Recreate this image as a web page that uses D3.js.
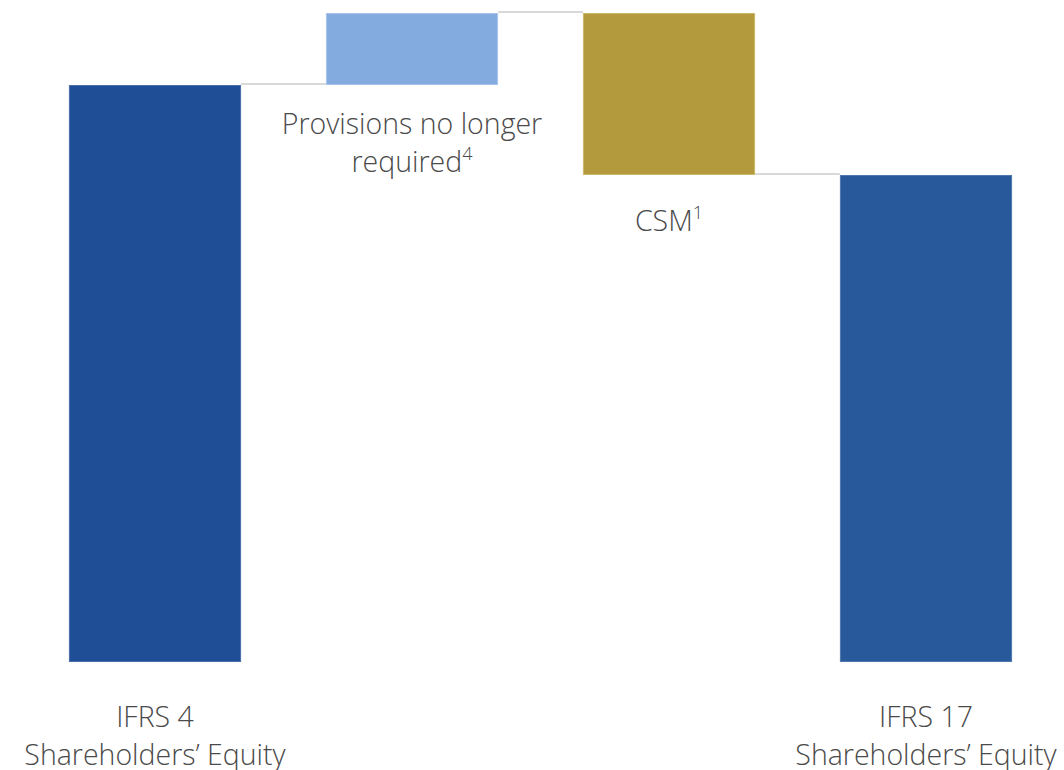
<!DOCTYPE html>
<html>
<head>
<meta charset="utf-8">
<script src="https://cdn.jsdelivr.net/npm/d3@7"></script>
<style>
  html, body { margin: 0; padding: 0; background: #fff; }
  svg { display: block; }
  text { font-family: "Open Sans", "Segoe UI", sans-serif; font-weight: 300; fill: #4a4a4a; }
</style>
</head>
<body>
<svg id="chart" width="1064" height="770"></svg>
<script>
// Data (arbitrary units)
const categories = ["IFRS 4 Shareholders’ Equity", "Provisions no longer required", "CSM", "IFRS 17 Shareholders’ Equity"];
const values = [57.7, 7.2, -16.2, 48.7];
const kinds = ["total", "delta", "delta", "total"];
const labelLines = [["IFRS 4", "Shareholders’ Equity"], ["Provisions no longer", "required"], ["CSM"], ["IFRS 17", "Shareholders’ Equity"]];
const superscripts = ["", "4", "1", ""];
const colors = ["#1F4E96", "#84ABE0", "#B39A3C", "#285A9B"];
const strokes = ["#4A6FAA", "#A9C5EC", "#CDB86A", "#4F78AE"];

const svg = d3.select("#chart");

const x = d3.scaleBand().domain(categories)
  .range([26.5, 1054.5]).paddingInner(0.33).paddingOuter(0.165);
const y = d3.scaleLinear().domain([0, 65]).range([662, 12]);

// compute waterfall
let running = 0;
const bars = categories.map((c, i) => {
  let lo, hi, end;
  if (kinds[i] === "total") { lo = 0; hi = values[i]; end = values[i]; }
  else { const s = running; end = running + values[i]; lo = Math.min(s, end); hi = Math.max(s, end); }
  running = end;
  return { c, i, lo, hi, end };
});

// connectors
const conn = svg.append("g");
for (let i = 0; i < bars.length - 1; i++) {
  const lvl = bars[i].end;
  conn.append("line")
    .attr("x1", x(categories[i]) + x.bandwidth())
    .attr("x2", x(categories[i + 1]))
    .attr("y1", y(lvl) - 1).attr("y2", y(lvl) - 1)
    .attr("stroke", "#D9D9D9").attr("stroke-width", 2);
}

svg.append("g").selectAll("rect").data(bars).join("rect")
  .attr("x", d => x(d.c) + 0.5)
  .attr("width", x.bandwidth() - 1)
  .attr("y", d => y(d.hi) + 0.5)
  .attr("height", d => y(d.lo) - y(d.hi) - 1)
  .attr("fill", (d) => colors[d.i])
  .attr("stroke", d => strokes[d.i])
  .attr("stroke-width", 1);

// labels
const fs = 28.5, lh = 38;
bars.forEach(d => {
  const cx = x(d.c) + x.bandwidth() / 2;
  let y0;
  if (kinds[d.i] === "total") y0 = 727;
  else y0 = y(d.lo) + (labelLines[d.i].length > 1 ? 49 : 56);
  const t = svg.append("text").attr("text-anchor", "middle").attr("font-size", fs);
  labelLines[d.i].forEach((ln, k) => {
    const ts = t.append("tspan").attr("x", cx).attr("y", y0 + k * lh).text(ln);
    if (k === labelLines[d.i].length - 1 && superscripts[d.i]) {
      ts.append("tspan").attr("font-size", 18).attr("dy", -12).text(superscripts[d.i]);
    }
  });
});
</script>
</body>
</html>
